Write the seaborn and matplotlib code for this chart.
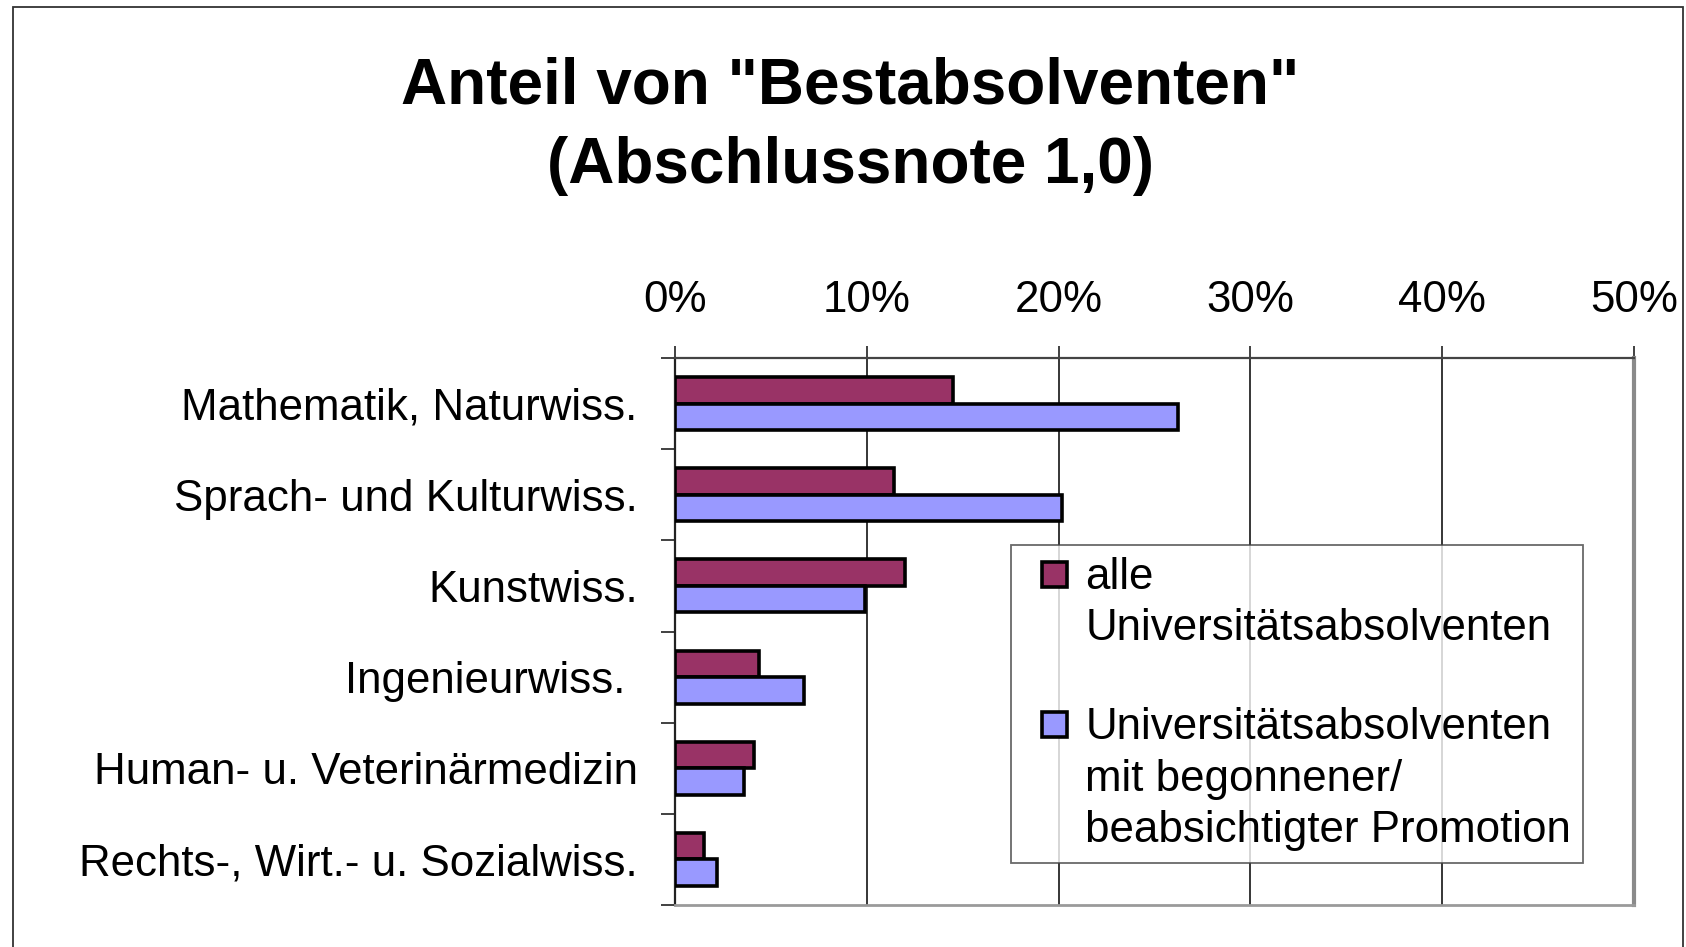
import pandas as pd
import matplotlib.pyplot as plt
import seaborn as sns
import numpy as np
from matplotlib.lines import Line2D
from matplotlib.patches import Rectangle

# data (percent)
faecher = ["Mathematik, Naturwiss.", "Sprach- und Kulturwiss.", "Kunstwiss.",
           "Ingenieurwiss. ", "Human- u. Veterinärmedizin", "Rechts-, Wirt.- u. Sozialwiss."]
alle = [14.5, 11.4, 12.0, 4.4, 4.1, 1.5]
promotion = [26.2, 20.2, 9.9, 6.7, 3.6, 2.2]
gruppen = ["alle", "promotion"]
x_ticks = [0, 10, 20, 30, 40, 50]
x_labels = ["0%", "10%", "20%", "30%", "40%", "50%"]

RED = "#993366"
BLUE = "#9999FF"
FS = 31.6

df = pd.DataFrame({
    "Fach": faecher * 2,
    "Anteil": alle + promotion,
    "Gruppe": [gruppen[0]] * len(faecher) + [gruppen[1]] * len(faecher),
})

sns.set_style("white")
plt.rcParams["font.family"] = ["Liberation Sans", "DejaVu Sans"]
plt.rcParams["text.color"] = "black"
plt.rcParams["xtick.color"] = "black"
plt.rcParams["ytick.color"] = "black"

fig = plt.figure(figsize=(16.86, 9.47), dpi=100)
ax = fig.add_axes([675 / 1686, 1 - 905 / 947, (1634 - 675) / 1686, (905 - 358) / 947])

sns.barplot(data=df, y="Fach", x="Anteil", hue="Gruppe", orient="h",
            palette=[RED, BLUE], saturation=1, width=0.58, edgecolor="black",
            linewidth=2.6, legend=False, ax=ax, zorder=3)

ax.set_xlim(0, 50)
ax.set_ylim(5.5, -0.5)
ax.set_xlabel("")
ax.set_ylabel("")

# x axis on top
ax.set_xticks(x_ticks)
ax.set_xticklabels(x_labels, fontsize=FS)
ax.tick_params(axis="x", bottom=False, top=True, labelbottom=False, labeltop=True,
               direction="out", length=9, width=1.3, color="#333333", pad=18)
ax.grid(axis="x", color="black", linewidth=1.1, zorder=0)
ax.grid(axis="y", visible=False)
ax.set_axisbelow(True)

# category labels, ticks between categories
ax.tick_params(axis="y", which="major", length=0, pad=27, labelsize=FS)
ax.set_yticks(np.arange(-0.5, 6, 1), minor=True)
ax.tick_params(axis="y", which="minor", left=True, length=10, width=1.3, color="#333333")

for side in ["left", "top", "right", "bottom"]:
    ax.spines[side].set_visible(True)
ax.spines["left"].set_color("#222222")
ax.spines["left"].set_linewidth(1.6)
ax.spines["top"].set_color("#444444")
ax.spines["top"].set_linewidth(1.6)
ax.spines["right"].set_color("#8a8a8a")
ax.spines["right"].set_linewidth(3)
ax.spines["bottom"].set_color("#9a9a9a")
ax.spines["bottom"].set_linewidth(2)

# legend, one line per entry so the squares sit on the first line
def square(color):
    return Line2D([], [], linestyle="none", marker="s", markersize=18,
                  markerfacecolor=color, markeredgecolor="black", markeredgewidth=2.6)

blank = Line2D([], [], linestyle="none")
handles = [square(RED), blank, blank, square(BLUE), blank, blank]
labels = ["alle", "Universitätsabsolventen", "",
          "Universitätsabsolventen", "mit begonnener/", "beabsichtigter Promotion"]
leg = ax.legend(handles, labels, loc="upper left",
                bbox_to_anchor=(1011 / 1686, 1 - 545 / 947),
                bbox_transform=fig.transFigure, fontsize=FS, frameon=True,
                fancybox=False, borderpad=0.27, borderaxespad=0,
                labelspacing=0.24, handlelength=1.42, handleheight=0.62,
                handletextpad=0.0)
leg.get_frame().set_edgecolor("#444444")
leg.get_frame().set_linewidth(1.3)
leg.get_texts()[2].set_fontsize(22)

# title
fig.text(850 / 1686, 1 - 87 / 947, 'Anteil von "Bestabsolventen"',
         ha="center", va="center", fontsize=46, fontweight="bold")
fig.text(850 / 1686, 1 - 166 / 947, "(Abschlussnote 1,0)",
         ha="center", va="center", fontsize=46, fontweight="bold")

# outer chart frame
fig.patches.append(Rectangle((13 / 1686, -0.01), (1683 - 13) / 1686, 1 - 7 / 947 + 0.01,
                             transform=fig.transFigure, fill=False,
                             edgecolor="#333333", linewidth=1.3))

fig.savefig("out.png", dpi=100)
plt.close()
